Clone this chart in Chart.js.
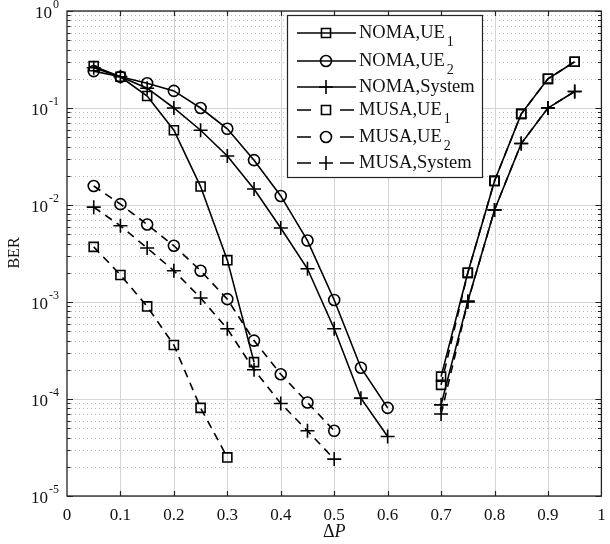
<!DOCTYPE html>
<html>
<head>
<meta charset="utf-8">
<script src="https://cdn.jsdelivr.net/npm/chart.js@4.4.0/dist/chart.umd.min.js"></script>
<style>
  body { margin: 0; background: #fff; }
  #wrap { width: 610px; height: 544px; }
</style>
</head>
<body>
<div id="wrap"><canvas id="berChart"></canvas></div>
<script>
// delta P values (0.65 has no data -> gap)
const deltaP = [0.05, 0.1, 0.15, 0.2, 0.25, 0.3, 0.35, 0.4, 0.45, 0.5, 0.55, 0.6, 0.65, 0.7, 0.75, 0.8, 0.85, 0.9, 0.95];

const nomaUE1 = [0.27, 0.21, 0.133, 0.059, 0.0155, 0.0027, 2.4e-4, null, null, null, null, null, null, 1.7e-4, 2.0e-3, 0.0177, 0.087, 0.2, 0.3];
const nomaUE2 = [0.24, 0.21, 0.18, 0.15, 0.10, 0.061, 0.029, 0.0124, 0.0043, 1.05e-3, 2.1e-4, 8.1e-5, null, null, null, null, null, null, null];
const nomaSys = [0.26, 0.21, 0.16, 0.10, 0.059, 0.032, 0.0146, 0.0058, 0.0022, 5.3e-4, 1.02e-4, 4.1e-5, null, 8.7e-5, 1.02e-3, 0.0089, 0.043, 0.10, 0.148];
const musaUE1 = [0.0037, 0.0019, 9.0e-4, 3.6e-4, 8.1e-5, 2.5e-5, null, null, null, null, null, null, null, 1.4e-4, 2.0e-3, 0.0177, 0.087, 0.2, 0.3];
const musaUE2 = [0.0157, 0.0102, 0.0063, 0.0038, 0.0021, 1.07e-3, 4.0e-4, 1.8e-4, 9.2e-5, 4.7e-5, null, null, null, null, null, null, null, null, null];
const musaSys = [0.0095, 0.0061, 0.0036, 0.0021, 1.1e-3, 5.3e-4, 2.0e-4, 9.0e-5, 4.7e-5, 2.4e-5, null, null, null, 7.0e-5, 1.0e-3, 0.0089, 0.043, 0.10, 0.148];

const yExps = [-5, -4, -3, -2, -1, 0];

const FONT = '"Liberation Serif", "Times New Roman", serif';
const DASH = [8, 6];
const LW = 1.6;

function mk(label, arr, style, dashed) {
    const r = style == 'rect' ? 6.4 : (style == 'circle' ? 5.5 : 7);
    return {
        label: label,
        data: deltaP.map((x, i) => ({x: x, y: arr[i]})),
        showLine: true,
        spanGaps: false,
        borderColor: '#000',
        backgroundColor: 'rgba(0,0,0,0)',
        borderWidth: LW,
        borderDash: dashed ? DASH : [],
        pointStyle: style,
        pointRadius: r,
        pointBorderWidth: LW,
        pointBorderColor: '#000',
        pointBackgroundColor: 'rgba(0,0,0,0)',
        sub: label.endsWith('UE1') ? '1' : (label.endsWith('UE2') ? '2' : ''),
        dashed: dashed
    };
}

const datasets = [
    mk('NOMA,UE1', nomaUE1, 'rect', false),
    mk('NOMA,UE2', nomaUE2, 'circle', false),
    mk('NOMA,System', nomaSys, 'cross', false),
    mk('MUSA,UE1', musaUE1, 'rect', true),
    mk('MUSA,UE2', musaUE2, 'circle', true),
    mk('MUSA,System', musaSys, 'cross', true)
];

function marker(ctx, style, x, y, r) {
    ctx.beginPath();
    if (style == 'rect') {
        const s = r * Math.SQRT1_2;
        ctx.rect(x - s, y - s, 2 * s, 2 * s);
    } else if (style == 'circle') {
        ctx.arc(x, y, r, 0, Math.PI * 2);
    } else {
        ctx.moveTo(x - r, y); ctx.lineTo(x + r, y);
        ctx.moveTo(x, y - r); ctx.lineTo(x, y + r);
    }
    ctx.stroke();
}

// grid, frame, tick marks, labels and the legend box
const decorations = {
    id: 'decorations',
    beforeDatasetsDraw(chart) {
        const {ctx, chartArea: a, scales: {x, y}} = chart;
        ctx.save();
        ctx.lineWidth = 1;
        // minor dotted lines
        ctx.strokeStyle = '#b8b8b8';
        ctx.setLineDash([1, 3]);
        for (let d = -5; d < 0; d++) {
            for (let k = 2; k <= 9; k++) {
                const py = Math.round(y.getPixelForValue(k * Math.pow(10, d))) + 0.5;
                ctx.beginPath(); ctx.moveTo(a.left, py); ctx.lineTo(a.right, py); ctx.stroke();
            }
        }
        // major lines
        ctx.setLineDash([]);
        ctx.strokeStyle = '#d4d4d4';
        yExps.forEach(e => {
            const py = Math.round(y.getPixelForValue(Math.pow(10, e))) + 0.5;
            ctx.beginPath(); ctx.moveTo(a.left, py); ctx.lineTo(a.right, py); ctx.stroke();
        });
        for (let i = 1; i < 10; i++) {
            const px = Math.round(x.getPixelForValue(i / 10)) + 0.5;
            ctx.beginPath(); ctx.moveTo(px, a.top); ctx.lineTo(px, a.bottom); ctx.stroke();
        }
        ctx.restore();
    },
    afterDraw(chart) {
        const {ctx, chartArea: a, scales: {x, y}} = chart;
        ctx.save();
        ctx.strokeStyle = '#222';
        ctx.lineWidth = 1.3;
        ctx.strokeRect(a.left, a.top, a.right - a.left, a.bottom - a.top);

        // inward ticks
        ctx.lineWidth = 1.2;
        ctx.beginPath();
        for (let i = 1; i < 10; i++) {
            const px = Math.round(x.getPixelForValue(i / 10)) + 0.5;
            ctx.moveTo(px, a.bottom); ctx.lineTo(px, a.bottom - 5);
            ctx.moveTo(px, a.top); ctx.lineTo(px, a.top + 5);
        }
        for (let d = -5; d <= 0; d++) {
            for (let k = 1; k <= 9; k++) {
                if (d == 0 && k > 1) break;
                const py = Math.round(y.getPixelForValue(k * Math.pow(10, d))) + 0.5;
                const len = k == 1 ? 6 : 3.5;
                ctx.moveTo(a.left, py); ctx.lineTo(a.left + len, py);
                ctx.moveTo(a.right, py); ctx.lineTo(a.right - len, py);
            }
        }
        ctx.stroke();

        // y tick labels 10^n
        ctx.fillStyle = '#111';
        ctx.textBaseline = 'middle';
        yExps.forEach(e => {
            const py = y.getPixelForValue(Math.pow(10, e));
            const ex = String(e);
            ctx.font = '12px ' + FONT;
            ctx.textAlign = 'right';
            const ew = ctx.measureText(ex).width;
            ctx.fillText(ex, 59, py - 6);
            ctx.font = '17px ' + FONT;
            ctx.fillText('10', 59 - ew - 1, py + 3);
        });

        // axis titles
        ctx.font = '16px ' + FONT;
        ctx.textAlign = 'center';
        ctx.save();
        ctx.translate(15, 253);
        ctx.rotate(-Math.PI / 2);
        ctx.fillText('BER', 0, 0);
        ctx.restore();
        ctx.font = '18px ' + FONT;
        ctx.textAlign = 'left';
        const dw = ctx.measureText('\u0394').width;
        ctx.font = 'italic 18px ' + FONT;
        const pw = ctx.measureText('P').width;
        const tx = (a.left + a.right) / 2 - (dw + pw) / 2;
        ctx.font = '18px ' + FONT;
        ctx.fillText('\u0394', tx, 532);
        ctx.font = 'italic 18px ' + FONT;
        ctx.fillText('P', tx + dw, 532);

        // legend box
        const bx = 287, by = 15, bw = 195, bh = 162;
        ctx.fillStyle = '#fff';
        ctx.fillRect(bx, by, bw, bh);
        ctx.strokeStyle = '#222';
        ctx.lineWidth = 1.2;
        ctx.strokeRect(bx + 0.5, by + 0.5, bw, bh);
        const rows = [33, 61, 87, 110, 137, 163];
        chart.data.datasets.forEach((ds, i) => {
            const ry = rows[i];
            ctx.strokeStyle = '#000';
            ctx.lineWidth = LW;
            ctx.beginPath();
            if (ds.dashed) {
                ctx.moveTo(297, ry); ctx.lineTo(311, ry);
                ctx.moveTo(340, ry); ctx.lineTo(354, ry);
            } else {
                ctx.moveTo(297, ry); ctx.lineTo(356, ry);
            }
            ctx.stroke();
            marker(ctx, ds.pointStyle, 326, ry, ds.pointStyle == 'rect' ? 6.4 : (ds.pointStyle == 'circle' ? 5.5 : 7));
            ctx.fillStyle = '#111';
            ctx.textAlign = 'left';
            ctx.textBaseline = 'middle';
            ctx.font = '18.5px ' + FONT;
            const main = ds.sub ? ds.label.slice(0, -1) : ds.label;
            ctx.fillText(main, 359, ry);
            if (ds.sub) {
                const w = ctx.measureText(main).width;
                ctx.font = '14px ' + FONT;
                ctx.fillText(ds.sub, 359 + w + 2, ry + 9);
            }
        });
        ctx.restore();
    }
};

const ctx = document.getElementById('berChart');
const berChart = new Chart(ctx, {
    type: 'scatter',
    data: { datasets: datasets },
    options: {
        responsive: true,
        maintainAspectRatio: false,
        animation: false,
        layout: { padding: { top: 11, right: 3, left: 0, bottom: 0 } },
        plugins: {
            legend: { display: false },
            tooltip: { enabled: false }
        },
        scales: {
            x: {
                type: 'linear',
                min: 0,
                max: 1,
                grid: { display: false },
                border: { display: false },
                afterFit: function(scale) { scale.height = 48; },
                ticks: {
                    stepSize: 0.1,
                    padding: 1,
                    color: '#111',
                    font: { family: FONT, size: 17 },
                    maxRotation: 0,
                    autoSkip: false,
                    callback: v => String(Math.round(v * 10) / 10)
                }
            },
            y: {
                type: 'logarithmic',
                min: 1e-5,
                max: 1,
                grid: { display: false },
                border: { display: false },
                ticks: { display: false },
                afterFit: function(scale) { scale.width = 67; }
            }
        }
    },
    plugins: [decorations]
});
</script>
</body>
</html>
